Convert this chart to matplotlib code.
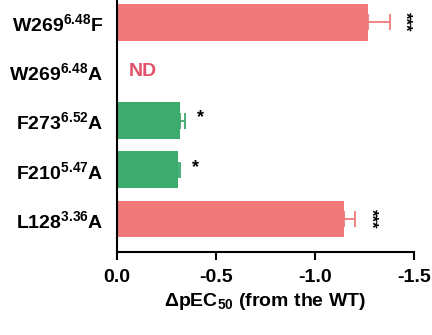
import numpy as np
import matplotlib.pyplot as plt

plt.rcParams['font.family'] = ['Liberation Sans', 'DejaVu Sans']
plt.rcParams['font.weight'] = 'bold'
plt.rcParams['mathtext.fontset'] = 'custom'
plt.rcParams['mathtext.rm'] = 'Liberation Sans:bold'
plt.rcParams['mathtext.bf'] = 'Liberation Sans:bold'
plt.rcParams['mathtext.it'] = 'Liberation Sans:bold'
plt.rcParams['mathtext.default'] = 'bf'

# bas -> haut
mutants = ['L128$^{3.36}$A', 'F210$^{5.47}$A', 'F273$^{6.52}$A', 'W269$^{6.48}$A', 'W269$^{6.48}$F']
dpec50 = [-1.145, -0.31, -0.32, np.nan, -1.27]
erreurs = [0.06, 0.01, 0.025, 0.0, 0.11]
signif = ['***', '*', '*', '', '***']
couleurs = ['#F07A7A', '#3DAA6E', '#3DAA6E', '#F07A7A', '#F07A7A']

fig = plt.figure(figsize=(4.32, 3.35), dpi=100)
ax = fig.add_axes([0.271, 0.248, 0.687, 0.752])

pos = np.arange(len(mutants))
for i in range(len(mutants)):
    if np.isnan(dpec50[i]):
        ax.text(-0.06, pos[i], 'ND', color='#E3506C', fontsize=14, fontweight='bold',
                ha='left', va='center')
        continue
    ax.barh(pos[i], dpec50[i], height=0.75, color=couleurs[i])
    ax.errorbar(dpec50[i], pos[i], xerr=[[erreurs[i]], [0]], color=couleurs[i],
                capsize=6, elinewidth=1.3, capthick=1.3)
    xs = dpec50[i] - erreurs[i] - 0.075
    if len(signif[i]) > 1:
        ax.text(xs, pos[i], signif[i], rotation=270, ha='center', va='center', fontsize=12)
    else:
        ax.text(xs, pos[i] + 0.05, signif[i], ha='center', va='center', fontsize=13)

ax.set_xlim(0, -1.5)
ax.set_ylim(-0.67, 4.45)
ax.set_xticks([0, -0.5, -1.0, -1.5])
ax.set_xticklabels(['0.0', '-0.5', '-1.0', '-1.5'])
ax.set_yticks(pos)
ax.set_yticklabels(mutants)
ax.tick_params(axis='x', direction='out', length=6, width=1.5, labelsize=14, pad=6)
ax.tick_params(axis='y', length=0, labelsize=14, pad=10)
for s in ['top', 'right']:
    ax.spines[s].set_visible(False)
for s in ['left', 'bottom']:
    ax.spines[s].set_linewidth(1.5)
ax.set_xlabel('$\\Delta$pEC$_{50}$ (from the WT)', fontsize=14, fontweight='bold', labelpad=4)

plt.savefig('out.png', dpi=100)
